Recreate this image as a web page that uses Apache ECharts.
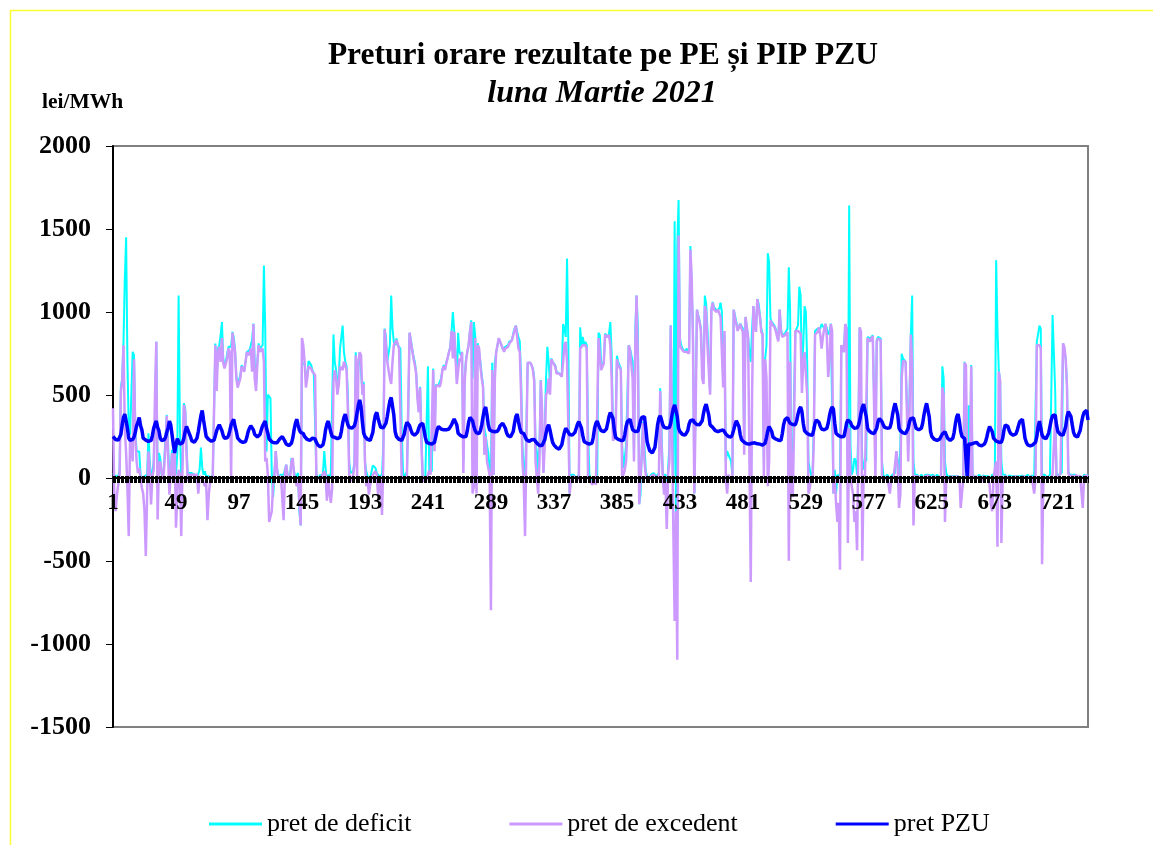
<!DOCTYPE html>
<html>
<head>
<meta charset="utf-8">
<title>Preturi orare rezultate pe PE și PIP PZU</title>
<script src="https://cdn.jsdelivr.net/npm/echarts@6/dist/echarts.min.js"></script>
<style>
  html, body { margin: 0; padding: 0; background: #fff; }
  #chart { width: 1153px; height: 845px; }
</style>
</head>
<body>
<div id="chart"></div>
<script>
// ore 1..744 (martie 2021 = 31 zile x 24 ore)
const ore = [];
for (let i = 1; i <= 744; i++) ore.push(String(i));

// pret de deficit, lei/MWh - cate un rand pe zi
const pretDeficit = [
  30,20,10,0,10,40,550,600,820,1200,1450,700,300,260,250,760,740,300,160,170,160,20,0,0,
  10,0,20,270,100,0,30,100,350,820,30,150,120,20,0,100,250,380,200,0,60,170,120,100,
  20,150,1100,300,0,100,450,420,200,10,30,20,30,40,20,10,0,0,50,183,60,20,40,10,
  20,10,0,5,20,30,810,600,780,800,860,939,720,680,700,750,790,790,790,880,850,770,610,560,
  560,620,680,690,650,700,760,758,770,800,833,930,700,560,700,811,780,770,800,1280,900,160,502,500,
  480,20,-115,20,162,60,10,5,20,10,20,10,80,30,0,20,120,110,40,0,10,30,-200,-286,
  690,700,690,600,620,705,700,680,650,630,640,20,10,0,20,0,30,162,60,-50,20,0,30,40,
  864,700,650,560,600,780,850,918,760,700,673,500,100,30,30,40,100,758,300,700,758,750,520,580,
  100,40,10,20,0,10,76,70,60,30,20,10,5,20,200,900,850,700,694,800,1099,900,820,800,
  840,800,790,780,300,30,10,20,40,396,875,830,780,730,700,640,500,400,550,300,10,0,0,10,
  673,40,60,40,660,200,560,570,560,560,600,650,680,660,700,720,760,790,886,1000,890,886,600,875,
  760,740,760,100,600,720,760,800,886,950,600,939,860,500,811,800,700,620,560,300,260,200,150,60,
  40,694,20,700,758,760,840,845,800,780,770,790,780,800,822,810,830,870,900,918,880,850,822,600,
  200,50,20,300,694,700,694,690,660,600,200,162,30,200,590,600,40,300,600,790,700,560,720,700,
  700,680,640,640,630,630,620,928,900,850,1322,800,-94,20,10,20,10,0,0,20,907,800,850,800,
  820,800,300,20,0,-20,0,10,0,20,875,860,700,680,700,870,860,850,870,939,750,300,260,300,
  737,700,680,660,200,60,120,200,500,800,780,770,700,150,900,1099,900,-158,-100,200,340,200,40,10,
  10,0,20,10,30,20,10,20,30,540,300,20,10,20,-100,50,200,920,400,20,1546,-243,1400,1674,
  843,800,780,770,760,780,770,760,1397,1397,900,-94,500,1014,980,950,900,700,600,1099,1050,900,700,520,
  1020,1060,1030,1020,1010,1014,1020,1056,1000,600,864,100,162,150,120,100,20,1014,980,940,900,890,930,920,
  900,200,970,980,850,758,700,900,1036,950,900,1078,1050,980,900,870,100,720,800,1354,1300,960,940,930,
  920,900,890,830,1014,900,860,850,870,870,900,1269,1000,-94,100,500,886,900,920,1152,1100,600,800,1035,
  1000,700,100,50,20,0,300,886,880,900,907,900,928,920,900,928,900,864,880,930,939,-94,50,-94,
  20,0,30,800,810,760,918,900,100,1642,200,20,50,120,100,20,300,907,900,100,50,120,100,850,
  860,840,850,860,860,100,830,850,850,840,100,20,0,10,20,10,0,10,20,10,30,160,100,20,
  200,748,720,710,700,700,200,500,870,1099,100,20,10,20,0,10,20,10,0,20,10,20,10,15,
  10,20,5,10,20,10,0,20,673,600,100,30,10,0,10,20,10,0,10,20,10,0,0,0,
  10,700,690,0,438,20,680,30,10,20,0,10,20,10,0,15,20,10,20,10,0,0,20,10,
  20,1312,900,650,590,100,20,10,20,0,10,15,20,10,0,10,20,10,0,10,20,15,10,5,
  10,20,10,0,15,20,10,5,822,820,918,900,20,10,20,10,0,10,20,10,982,970,524,20,
  10,20,10,30,811,800,720,560,40,20,10,20,10,20,15,10,20,10,20,0,20,15,10,20
];

// pret de excedent, lei/MWh
const pretExcedent = [
  420,-140,-200,-100,-90,20,520,580,800,300,150,-60,-350,240,220,100,715,250,100,30,60,0,-60,-94,
  -200,-470,-100,160,50,-160,10,50,500,820,-250,80,100,40,-10,60,200,375,120,-100,20,150,0,200,
  -300,-100,50,20,-350,80,440,400,150,-20,20,10,20,30,20,10,20,-94,10,20,0,-10,-50,-30,
  -254,-100,-20,-10,10,20,800,524,760,790,700,843,694,660,690,720,780,760,-20,875,820,760,600,545,
  545,600,672,672,640,700,758,750,740,780,640,928,600,524,690,800,760,760,780,700,100,120,20,-265,
  -260,-200,-40,10,162,50,0,-5,10,0,-254,30,80,10,0,10,100,120,20,-10,-50,0,-150,-286,
  843,800,700,545,600,672,680,660,640,630,620,0,10,0,-20,10,0,40,20,-137,10,-94,-150,-60,
  587,650,600,502,560,672,660,650,700,680,650,400,20,0,-20,20,80,740,0,700,758,740,502,566,
  98,-50,0,-100,-40,-40,20,10,40,20,-100,-60,-10,-222,100,896,800,700,694,600,566,700,800,800,
  830,820,780,780,0,10,-10,0,10,0,875,820,770,720,680,630,480,396,545,200,0,-20,-10,-10,
  20,45,20,30,651,162,545,560,566,550,580,650,672,650,690,700,758,780,886,720,880,886,566,560,
  720,700,758,30,580,700,760,800,880,939,-94,-50,843,-94,800,780,672,600,545,140,250,100,100,20,
  -797,650,20,600,758,758,843,843,800,780,760,780,770,790,810,800,830,860,890,918,850,780,758,500,
  100,-20,-350,200,694,690,694,680,650,580,100,0,-94,100,587,400,30,200,500,520,600,502,715,700,
  690,672,630,630,630,620,610,700,800,820,700,700,-94,0,10,10,0,0,-10,-10,780,780,800,800,
  800,780,0,10,-20,-40,-30,-20,-40,-30,843,843,650,650,690,864,850,840,860,800,600,225,225,250,
  715,680,670,650,0,20,50,100,300,800,770,760,600,100,800,1099,700,-158,-150,150,332,100,20,0,
  0,-10,10,0,20,10,0,10,20,524,200,0,-100,-20,-307,20,100,918,300,-307,-861,-200,-1095,1461,
  800,780,770,760,760,760,760,750,1376,1200,800,-94,400,1014,970,940,886,600,566,1036,1000,800,650,502,
  1014,1056,1014,1014,1000,1014,1014,970,960,545,886,0,-94,20,0,10,0,1014,960,928,886,880,928,900,
  880,140,970,970,843,100,-626,500,1036,928,880,1078,1020,970,880,864,0,715,600,-50,100,950,930,928,
  910,886,880,822,1014,886,850,843,860,864,880,-499,700,-94,-115,300,886,880,886,886,870,512,700,758,
  758,500,-94,-60,0,-20,200,864,870,880,907,860,780,850,900,928,850,608,700,928,886,-94,0,-150,
  -265,-150,-552,800,800,758,928,900,-392,300,0,0,-100,-265,-200,-435,200,907,880,-499,20,0,10,843,
  843,822,840,855,855,0,822,840,843,830,0,10,-10,0,10,0,-94,-10,0,10,10,162,60,-180,
  -100,600,705,705,700,694,100,400,864,700,-286,10,0,10,0,5,10,0,10,10,0,15,5,0,
  0,10,0,5,10,0,-10,10,545,500,-265,0,0,-10,0,10,0,5,0,10,0,5,-180,-180,
  0,694,680,0,20,0,672,0,5,10,0,5,10,0,-20,10,5,0,10,0,-40,-158,-200,0,
  0,100,-414,641,587,-392,0,5,10,0,5,10,0,10,5,0,10,5,0,10,5,0,10,0,
  0,10,5,0,10,0,-94,0,800,790,800,780,-520,0,10,5,0,5,10,0,20,200,353,0,
  0,10,30,20,811,790,715,545,30,10,5,15,10,5,20,0,10,15,20,-180,10,20,15,10
];

// pret PZU, lei/MWh
const pretPZU = [
  250,240,232,228,228,235,262,320,365,385,345,300,240,226,226,232,246,276,315,335,364,315,290,240,
  235,228,226,220,220,226,255,300,325,343,305,285,240,226,226,230,245,275,305,343,320,260,200,151,
  200,237,230,204,205,212,240,280,311,300,270,250,225,215,215,220,240,280,330,377,407,350,300,250,
  240,232,226,222,222,228,255,285,305,321,315,285,255,240,237,242,255,285,320,340,354,310,280,240,
  230,222,218,215,215,220,245,280,300,315,321,290,262,250,248,247,262,290,315,330,343,300,270,235,
  225,218,215,212,210,212,222,235,245,250,240,222,205,196,195,198,210,240,290,330,354,320,290,275,
  280,268,250,240,232,228,226,230,240,245,235,215,200,192,188,187,200,235,290,325,343,310,275,250,
  252,245,240,237,237,245,280,330,365,385,350,320,305,300,300,300,315,345,395,440,471,430,340,270,
  250,240,232,228,226,235,275,340,380,396,360,330,305,300,302,310,330,370,420,465,485,492,380,280,
  250,240,232,228,226,232,265,310,335,343,315,290,268,260,258,262,275,300,320,332,330,290,245,215,
  212,208,205,204,206,215,250,290,311,305,295,290,290,288,290,292,295,305,320,340,355,364,320,270,
  260,255,250,248,247,250,285,335,365,375,345,310,285,272,268,268,285,320,370,410,428,380,320,290,
  285,282,280,279,279,282,295,315,325,330,332,300,270,255,250,248,247,280,330,370,385,340,300,275,
  272,268,250,232,226,220,222,230,235,232,222,210,200,196,194,196,205,230,270,305,321,290,250,215,
  200,190,182,176,174,178,200,240,275,300,290,275,262,258,258,262,275,300,325,340,343,300,255,220,
  215,210,206,204,204,210,245,300,330,343,320,300,285,280,279,279,295,330,370,395,407,360,290,245,
  240,232,228,226,226,228,260,310,340,350,354,320,290,282,280,279,282,310,345,365,375,370,300,220,
  190,165,155,151,160,185,250,320,360,375,350,320,305,300,300,300,305,330,380,420,440,449,370,300,
  280,270,262,260,258,258,285,325,345,354,350,335,325,322,321,321,321,345,390,425,445,449,380,320,
  310,305,295,285,280,279,282,285,288,290,280,265,255,250,248,247,262,290,320,345,354,310,260,230,
  222,215,210,206,204,204,206,210,212,212,208,206,205,204,204,198,194,210,245,285,310,321,280,245,
  240,235,230,228,226,226,265,320,350,362,364,345,330,325,322,321,321,345,385,415,428,400,330,285,
  275,268,262,260,258,258,290,330,350,354,335,310,295,292,290,290,300,330,375,410,428,415,330,270,
  260,255,250,248,247,250,285,330,350,354,335,315,305,300,300,302,315,345,390,425,445,449,370,300,
  285,278,272,270,268,270,300,340,358,364,340,320,305,300,300,300,302,330,380,420,450,460,380,300,
  285,278,272,270,268,270,300,340,358,364,362,330,300,292,290,290,300,330,380,420,450,460,370,280,
  250,240,232,228,226,226,235,250,265,275,279,260,240,230,226,226,240,275,330,370,385,340,280,250,
  245,237,225,0,205,204,204,206,210,214,215,205,198,195,194,198,204,220,250,285,310,321,280,240,
  230,222,218,216,215,215,240,290,320,332,310,285,268,260,258,258,265,285,315,340,350,354,300,240,
  215,200,195,194,196,200,208,215,250,310,343,300,260,245,240,237,245,270,310,350,375,385,380,320,
  280,270,262,258,258,265,310,370,400,407,370,320,275,255,250,247,255,285,330,370,395,405,407,350
];

const numeSerii = ['pret de deficit', 'pret de excedent', 'pret PZU'];
const culori = ['#00FFFF', '#CC99FF', '#0000FF'];

if (pretDeficit.length !== 744 || pretExcedent.length !== 744 || pretPZU.length !== 744) {
  throw new Error('lungime date: ' + pretDeficit.length + ' ' + pretExcedent.length + ' ' + pretPZU.length);
}

const serif = '"Liberation Serif", "Times New Roman", serif';
const chart = echarts.init(document.getElementById('chart'), null, { renderer: 'canvas' });

const option = {
  backgroundColor: '#ffffff',
  animation: false,
  color: culori,
  graphic: [
    // chenar galben
    { type: 'line', shape: { x1: 10, y1: 10.5, x2: 1153, y2: 10.5 }, style: { stroke: '#FFFF33', lineWidth: 1.5 } },
    { type: 'line', shape: { x1: 10.5, y1: 10, x2: 10.5, y2: 845 }, style: { stroke: '#FFFF33', lineWidth: 1.5 } },
    { type: 'text', x: 603, y: 56, style: { text: 'Preturi orare rezultate pe PE și PIP PZU', font: 'bold 31.5px ' + serif, fill: '#000', textAlign: 'center', textVerticalAlign: 'middle' } },
    { type: 'text', x: 602, y: 94, style: { text: 'luna Martie 2021', font: 'italic bold 32px ' + serif, fill: '#000', textAlign: 'center', textVerticalAlign: 'middle' } },
    { type: 'text', x: 42, y: 102, style: { text: 'lei/MWh', font: 'bold 21.5px ' + serif, fill: '#000', textAlign: 'left', textVerticalAlign: 'middle' } }
  ],
  legend: {
    data: numeSerii,
    left: 204,
    top: 806,
    icon: 'rect',
    itemWidth: 53,
    itemHeight: 3,
    itemGap: 98,
    textStyle: { fontFamily: serif, fontSize: 26, color: '#000' }
  },
  grid: [
    // zona graficului
    { left: 113, right: 65, top: 146, bottom: 118, show: true,
      borderColor: '#808080', borderWidth: 2, backgroundColor: 'transparent' },
    // jumatatea de sus, doar pentru etichetele orelor sub linia de zero
    { left: 113, right: 65, top: 146, height: 333, show: false }
  ],
  xAxis: [
    {
      type: 'category',
      gridIndex: 0,
      z: 4,
      data: ore,
      boundaryGap: false,
      axisLine: { onZero: true, lineStyle: { color: '#000', width: 2 } },
      axisTick: { interval: 0, length: 5, lineStyle: { color: '#000', width: 1 } },
      axisLabel: { show: false },
      splitLine: { show: false }
    },
    {
      type: 'category',
      gridIndex: 1,
      z: 10,
      data: ore,
      boundaryGap: false,
      position: 'bottom',
      axisLine: { show: false },
      axisTick: { show: true, interval: 0, inside: true, length: 3, lineStyle: { color: '#000', width: 1 } },
      axisLabel: { interval: 47, margin: 13, fontFamily: serif, fontWeight: 'bold', fontSize: 23, color: '#000' },
      splitLine: { show: false }
    }
  ],
  yAxis: [
    {
      type: 'value',
      gridIndex: 0,
      min: -1500,
      max: 2000,
      interval: 500,
      axisLine: { show: true, lineStyle: { color: '#000', width: 2 } },
      axisTick: { show: true, length: 7, lineStyle: { color: '#000', width: 1 } },
      axisLabel: { margin: 22, fontFamily: serif, fontWeight: 'bold', fontSize: 26, color: '#000',
        formatter: function (v) { return String(v); } },
      splitLine: { show: false }
    },
    {
      type: 'value',
      gridIndex: 1,
      min: 0,
      max: 2000,
      show: false
    }
  ],
  series: [
    { name: numeSerii[0], type: 'line', data: pretDeficit, symbol: 'none',
      lineStyle: { color: culori[0], width: 2 }, itemStyle: { color: culori[0] } },
    { name: numeSerii[1], type: 'line', data: pretExcedent, symbol: 'none',
      lineStyle: { color: culori[1], width: 2.5 }, itemStyle: { color: culori[1] } },
    { name: numeSerii[2], type: 'line', data: pretPZU, symbol: 'none',
      lineStyle: { color: culori[2], width: 3.5 }, itemStyle: { color: culori[2] } }
  ]
};

chart.setOption(option);
</script>
</body>
</html>
